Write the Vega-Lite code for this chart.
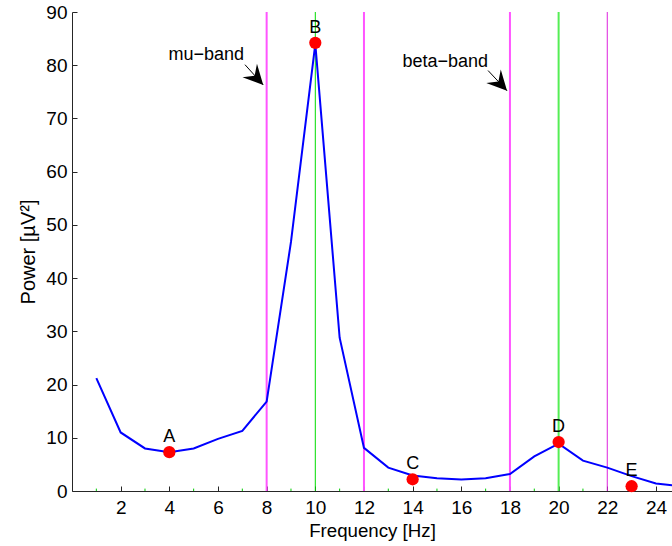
{
  "$schema": "https://vega.github.io/schema/vega-lite/v6.json",
  "width": 600,
  "height": 479,
  "autosize": "none",
  "padding": {"left": 72, "top": 12, "right": 0, "bottom": 55},
  "background": "white",
  "config": {
    "view": {"stroke": null},
    "font": "Liberation Sans",
    "axis": {"grid": false, "domainColor": "#262626", "tickColor": "#262626", "labelColor": "#000000", "titleColor": "#000000", "labelFont": "Liberation Sans", "titleFont": "Liberation Sans", "labelFontSize": 19, "titleFontSize": 18.7, "titleFontWeight": "normal", "tickSize": -5, "domainWidth": 1}
  },
  "datasets": {
    "spectrum": [
      {"f": 1, "p": 21.2}, {"f": 2, "p": 11.0}, {"f": 3, "p": 8.0}, {"f": 4, "p": 7.3},
      {"f": 5, "p": 8.0}, {"f": 6, "p": 9.8}, {"f": 7, "p": 11.3}, {"f": 8, "p": 16.8},
      {"f": 9, "p": 46.8}, {"f": 10, "p": 84.0}, {"f": 11, "p": 28.8}, {"f": 12, "p": 8.1},
      {"f": 13, "p": 4.4}, {"f": 14, "p": 2.9}, {"f": 15, "p": 2.4}, {"f": 16, "p": 2.15},
      {"f": 17, "p": 2.4}, {"f": 18, "p": 3.2}, {"f": 19, "p": 6.5}, {"f": 20, "p": 8.9},
      {"f": 21, "p": 5.7}, {"f": 22, "p": 4.4}, {"f": 23, "p": 2.8}, {"f": 24, "p": 1.4},
      {"f": 25, "p": 0.9}
    ],
    "marked": [
      {"f": 4, "p": 7.3, "label": "A"},
      {"f": 10, "p": 84.2, "label": "B"},
      {"f": 14, "p": 2.2, "label": "C"},
      {"f": 20, "p": 9.2, "label": "D"},
      {"f": 23, "p": 0.9, "label": "E"}
    ],
    "minor": [
      {"f": 1}, {"f": 3}, {"f": 5}, {"f": 7}, {"f": 9}, {"f": 11}, {"f": 13},
      {"f": 15}, {"f": 17}, {"f": 19}, {"f": 21}, {"f": 23}
    ],
    "arrows": [
      {"x": 7.11, "y": 80.1, "x2": 7.86, "y2": 76.3, "text": "mu−band", "tx": 7.07, "ty": 81.9},
      {"x": 17.1, "y": 79.0, "x2": 17.88, "y2": 75.2, "text": "beta−band", "tx": 17.1, "ty": 80.6}
    ]
  },
  "layer": [
    {
      "data": {"values": [{"f": 8}, {"f": 12}, {"f": 18}]},
      "mark": {"type": "rule", "color": "#ff55ff", "strokeWidth": 2},
      "encoding": {"x": {"field": "f", "type": "quantitative", "scale": {"domain": [0, 24.66], "nice": false, "zero": false}}}
    },
    {
      "data": {"values": [{"f": 10}]},
      "mark": {"type": "rule", "color": "#00dd00", "strokeWidth": 1},
      "encoding": {"x": {"field": "f", "type": "quantitative"}}
    },
    {
      "data": {"values": [{"f": 20}]},
      "mark": {"type": "rule", "color": "#55ee55", "strokeWidth": 2},
      "encoding": {"x": {"field": "f", "type": "quantitative"}}
    },
    {
      "data": {"values": [{"f": 22}]},
      "mark": {"type": "rule", "color": "#dd22dd", "strokeWidth": 1},
      "encoding": {"x": {"field": "f", "type": "quantitative"}}
    },
    {
      "data": {"name": "minor"},
      "mark": {"type": "rule", "color": "#00cc00", "strokeWidth": 1},
      "encoding": {"x": {"field": "f", "type": "quantitative"}, "y": {"datum": 0, "type": "quantitative"}, "y2": {"datum": 0.45}}
    },
    {
      "data": {"name": "spectrum"},
      "mark": {"type": "line", "color": "#0000ff", "strokeWidth": 2, "clip": true},
      "encoding": {
        "x": {"field": "f", "type": "quantitative",
          "axis": {"title": "Frequency [Hz]", "values": [2,4,6,8,10,12,14,16,18,20,22,24], "labelPadding": 12, "titlePadding": 4, "labelFlush": false}},
        "y": {"field": "p", "type": "quantitative", "scale": {"domain": [0, 90], "nice": false},
          "axis": {"title": "Power [µV²]", "titleFontSize": 20, "values": [0,10,20,30,40,50,60,70,80,90], "labelPadding": 10, "titlePadding": 7}}
      }
    },
    {
      "data": {"name": "marked"},
      "mark": {"type": "point", "filled": true, "color": "#ff0000", "size": 150, "opacity": 1},
      "encoding": {"x": {"field": "f", "type": "quantitative"}, "y": {"field": "p", "type": "quantitative"}}
    },
    {
      "data": {"name": "marked"},
      "mark": {"type": "text", "fontSize": 18, "dy": -10, "baseline": "alphabetic", "align": "center", "color": "#000000"},
      "encoding": {"x": {"field": "f", "type": "quantitative"}, "y": {"field": "p", "type": "quantitative"}, "text": {"field": "label"}}
    },
    {
      "data": {"name": "arrows"},
      "mark": {"type": "rule", "color": "#000000", "strokeWidth": 1},
      "encoding": {"x": {"field": "x", "type": "quantitative"}, "y": {"field": "y", "type": "quantitative"}, "x2": {"field": "x2"}, "y2": {"field": "y2"}}
    },
    {
      "data": {"name": "arrows"},
      "mark": {"type": "point", "filled": true, "color": "#000000", "opacity": 1, "size": 1300, "angle": 137, "shape": "M0,0 L-0.55,1.1 L0,0.7 L0.55,1.1 Z"},
      "encoding": {"x": {"field": "x2", "type": "quantitative"}, "y": {"field": "y2", "type": "quantitative"}}
    },
    {
      "data": {"name": "arrows"},
      "mark": {"type": "text", "fontSize": 18, "align": "right", "baseline": "middle", "color": "#000000"},
      "encoding": {"x": {"field": "tx", "type": "quantitative"}, "y": {"field": "ty", "type": "quantitative"}, "text": {"field": "text"}}
    }
  ]
}
